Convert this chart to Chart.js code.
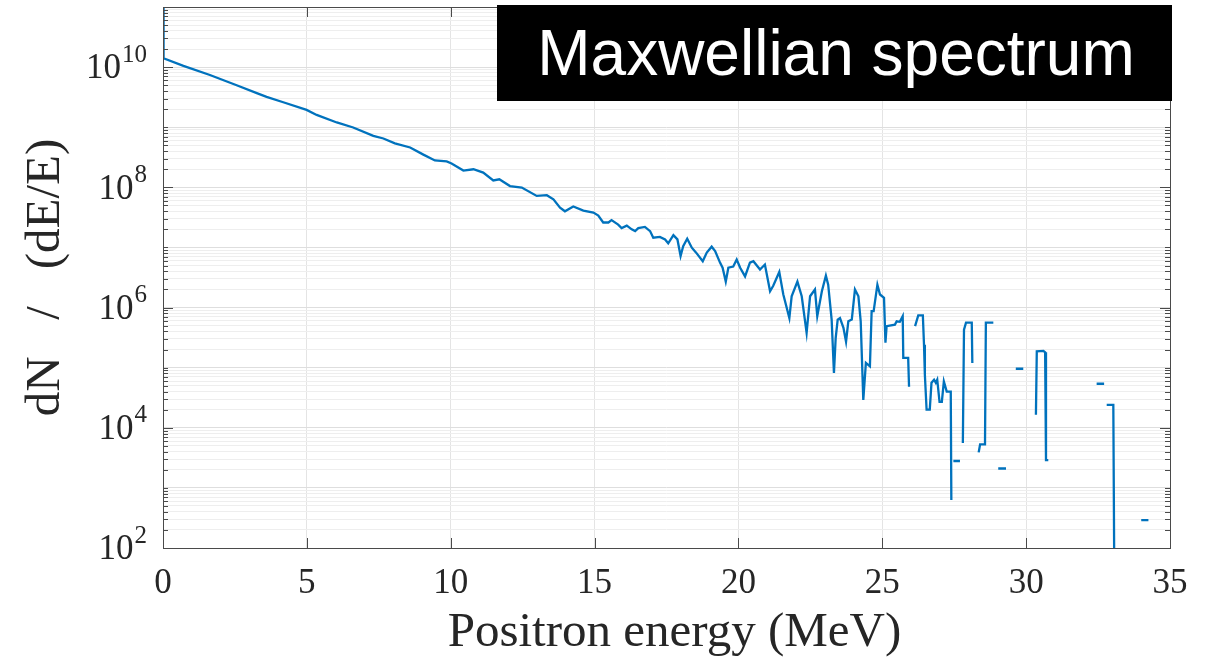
<!DOCTYPE html>
<html>
<head>
<meta charset="utf-8">
<title>Maxwellian spectrum</title>
<script src="https://cdn.jsdelivr.net/npm/chart.js@4.4.1/dist/chart.umd.min.js"></script>
<style>
  html, body { margin: 0; padding: 0; background: #fff; }
</style>
</head>
<body>
<canvas id="spectrumChart" width="1216" height="661"></canvas>
<script>
// positron energy (MeV)
var energy = [0, 0.02, 0.71, 1.63, 2.56, 3.26, 3.60, 4.18, 4.99, 5.34, 6.04, 6.61, 7.31, 7.66, 8.06, 8.59,
  9.05, 9.45, 9.86, 10.03, 10.44, 10.79, 11.13, 11.48, 11.69, 12.06, 12.47, 12.99, 13.34, 13.57, 13.80,
  13.97, 14.26, 14.61, 14.96, 15.13, 15.30, 15.48, 15.59, 15.82, 15.94, 16.12, 16.29, 16.41, 16.52, 16.75,
  16.93, 17.04, 17.27, 17.45, 17.56, 17.74, 17.88, 17.99, 18.08, 18.22, 18.38, 18.53, 18.76, 18.90, 19.07,
  19.19, 19.36, 19.45, 19.56, 19.65, 19.82, 19.94, 20.06, 20.23, 20.40, 20.52, 20.75, 20.92, 21.10, 21.21,
  21.42, 21.56, 21.77, 21.85, 22.05, 22.20, 22.37, 22.49, 22.66, 22.74, 22.90, 23.04, 23.12, 23.24, 23.32,
  23.38, 23.45, 23.53, 23.65, 23.74, 23.82, 23.94, 24.05, 24.17, 24.25, 24.34, 24.43, 24.57, 24.63, 24.70,
  24.83, 24.92, 25.06, 25.11, 25.15, 25.44, 25.50, 25.61, 25.71, 25.73, 25.90, 25.93, 26.03,
  26.14, 26.25, 26.41, 26.45, 26.48, 26.54, 26.65, 26.71, 26.80, 26.86, 26.91, 26.99, 27.07, 27.14, 27.24,
  27.38, 27.40, 27.44, 27.47, 27.70, 27.75, 27.80, 27.84, 27.91, 28.11, 28.13, 28.24, 28.35, 28.40, 28.57,
  28.60, 28.86, 28.95, 29.03, 29.30, 29.47, 29.64, 29.90, 30.10, 30.34, 30.37, 30.60, 30.66, 30.69, 30.77,
  31.60, 32.45, 32.71, 32.75, 32.80, 33.03, 33.07, 33.50, 34.00, 34.25];

// dN / (dE/E); null = empty bin, the line breaks there
var dnde = [1e12, 1.4e10, 1.05e10, 7.4e9, 5.0e9, 3.7e9, 3.2e9, 2.6e9, 1.94e9, 1.6e9, 1.2e9, 9.9e8, 7.2e8, 6.5e8, 5.4e8, 4.6e8,
  3.5e8, 2.8e8, 2.7e8, 2.5e8, 1.9e8, 2.0e8, 1.76e8, 1.3e8, 1.36e8, 1.05e8, 9.9e7, 7.2e7, 7.4e7, 6.3e7, 4.6e7,
  4.0e7, 4.8e7, 4.1e7, 3.8e7, 3.4e7, 2.6e7, 2.6e7, 2.85e7, 2.4e7, 2.1e7, 2.3e7, 2.0e7, 1.87e7, 2.1e7, 2.2e7,
  1.87e7, 1.45e7, 1.5e7, 1.36e7, 1.17e7, 1.6e7, 1.36e7, 7.2e6, 1.05e7, 1.4e7, 9.9e6, 8.2e6, 5.9e6, 8.2e6, 1.03e7,
  8.7e6, 5.6e6, 4.6e6, 2.7e6, 4.6e6, 4.8e6, 6.3e6, 4.6e6, 3.3e6, 5.6e6, 5.9e6, 4.3e6, 5.2e6, 1.87e6, 2.3e6,
  3.9e6, 1.65e6, 6.7e5, 1.54e6, 2.7e6, 1.54e6, 3.8e5, 1.54e6, 2.0e6, 7.2e5, 1.87e6, 3.4e6, 2.4e6, 6.3e5, 8.2e4,
  3.1e5, 6.3e5, 6.7e5, 4.6e5, 2.7e5, 5.9e5, 6.3e5, 2.0e6, 1.54e6, 5.9e5, 2.9e4, 1.2e5, 1.05e5, 8.7e5, 8.7e5,
  2.4e6, 1.65e6, 1.45e6, 2.6e5, 4.9e5, 5.2e5, 5.9e5, 5.8e5, 7.2e5, 1.45e5, 1.45e5, 4.8e4, null,
  4.9e5, 7.4e5, 7.4e5, 2.4e5, 7.6e4, 2.0e4, 2.0e4, 5.6e4, 6.3e4, 5.6e4, 6.3e4, 2.7e4, 2.7e4, 5.9e4, 4.0e4,
  4.0e4, 630, null, 2800, 2800, null, 5600, 4.3e5, 5.6e5, 5.6e5, 1.2e5, null, 3900, 5300, 5300,
  5.6e5, 5.6e5, null, 2100, 2100, null, 9.6e4, 9.6e4, null, 1.65e4, 1.87e5, 1.9e5, 1.8e5, 2900, 2900,
  null, 5.4e4, 5.4e4, null, 2.4e4, 2.4e4, 10, null, 290, 290];

var xTickValues = [0, 5, 10, 15, 20, 25, 30, 35];
var yLabelPowers = [2, 4, 6, 8, 10];

var lineColor = '#0072BD';
var axisColor = '#4a4a4a';
var serif = '"Liberation Serif", "Times New Roman", serif';

// 1..9 x 10^n gridlines from 10^2 up to 10^11
var yGridValues = [];
for (var n = 2; n <= 10; n++) {
  for (var m = 1; m <= 9; m++) yGridValues.push(m * Math.pow(10, n));
}
yGridValues.push(1e11);

function decadeOf(v) {
  var l = Math.log10(v);
  return Math.abs(l - Math.round(l)) < 1e-9 ? Math.round(l) : null;
}

var points = energy.map(function (e, i) { return { x: e, y: dnde[i] }; });

var axesPlugin = {
  id: 'axesDecor',
  afterDraw: function (chart) {
    var ctx = chart.ctx, a = chart.chartArea;
    var xs = chart.scales.x, ys = chart.scales.y;
    ctx.save();

    // inward tick marks on all four sides
    ctx.strokeStyle = axisColor;
    ctx.lineWidth = 1;
    ctx.beginPath();
    xTickValues.forEach(function (v) {
      var px = Math.round(xs.getPixelForValue(v)) + 0.5;
      ctx.moveTo(px, a.bottom); ctx.lineTo(px, a.bottom - 10);
      ctx.moveTo(px, a.top); ctx.lineTo(px, a.top + 10);
    });
    yGridValues.forEach(function (v) {
      var py = Math.round(ys.getPixelForValue(v)) + 0.5;
      var d = decadeOf(v);
      var len = (d !== null && d % 2 === 0) ? 10 : 5;
      ctx.moveTo(a.left, py); ctx.lineTo(a.left + len, py);
      ctx.moveTo(a.right, py); ctx.lineTo(a.right - len, py);
    });
    ctx.stroke();

    ctx.strokeRect(Math.round(a.left) + 0.5, Math.round(a.top) + 0.5,
      Math.round(a.right - a.left), Math.round(a.bottom - a.top));

    // tick labels
    ctx.fillStyle = '#262626';
    ctx.font = '35px ' + serif;
    ctx.textAlign = 'center';
    ctx.textBaseline = 'middle';
    xTickValues.forEach(function (v) {
      ctx.fillText(String(v), xs.getPixelForValue(v), a.bottom + 36);
    });

    ctx.textAlign = 'left';
    yLabelPowers.forEach(function (p) {
      var py = ys.getPixelForValue(Math.pow(10, p));
      ctx.font = '35px ' + serif;
      var wb = ctx.measureText('10').width;
      ctx.font = '25px ' + serif;
      var we = ctx.measureText(String(p)).width;
      var x0 = a.left - 17 - wb - we;
      ctx.font = '35px ' + serif;
      ctx.fillText('10', x0, py + 2);
      ctx.font = '25px ' + serif;
      ctx.fillText(String(p), x0 + wb + 1, py - 12);
    });

    // axis titles
    ctx.font = '49px ' + serif;
    ctx.textAlign = 'center';
    ctx.fillText('Positron energy (MeV)', (a.left + a.right) / 2 + 8, 633);
    ctx.translate(46, (a.top + a.bottom) / 2);
    ctx.rotate(-Math.PI / 2);
    ctx.fillText('dN   /   (dE/E)', 0, 0);
    ctx.setTransform(1, 0, 0, 1, 0, 0);

    // label box
    ctx.fillStyle = '#000';
    ctx.fillRect(497, 5, 675, 96);
    ctx.fillStyle = '#fff';
    ctx.font = '64px "Liberation Sans", Arial, sans-serif';
    ctx.textBaseline = 'alphabetic';
    ctx.fillText('Maxwellian spectrum', 836, 75);

    ctx.restore();
  }
};

var ctx = document.getElementById('spectrumChart').getContext('2d');
var spectrumChart = new Chart(ctx, {
  type: 'line',
  data: {
    datasets: [{
      label: 'Maxwellian spectrum',
      data: points,
      borderColor: lineColor,
      backgroundColor: lineColor,
      borderWidth: 2.3,
      pointRadius: 0,
      tension: 0,
      spanGaps: false,
      fill: false
    }]
  },
  options: {
    responsive: false,
    animation: false,
    layout: { padding: { top: 7, right: 46, left: 0, bottom: 0 } },
    plugins: {
      legend: { display: false },
      tooltip: { enabled: false }
    },
    scales: {
      x: {
        type: 'linear',
        min: 0,
        max: 35,
        afterBuildTicks: function (scale) {
          scale.ticks = xTickValues.map(function (v) { return { value: v }; });
        },
        afterFit: function (scale) { scale.height = 113; },
        ticks: { display: false },
        border: { display: false },
        grid: { color: '#e4e4e4', drawTicks: false }
      },
      y: {
        type: 'logarithmic',
        min: 1e2,
        max: 1e11,
        afterBuildTicks: function (scale) {
          scale.ticks = yGridValues.map(function (v) { return { value: v }; });
        },
        afterFit: function (scale) { scale.width = 163; },
        ticks: { display: false },
        border: { display: false },
        grid: {
          drawTicks: false,
          color: function (c) {
            var v = c.tick && c.tick.value;
            return (v && decadeOf(v) !== null) ? '#dedede' : '#eeeeee';
          }
        }
      }
    }
  },
  plugins: [axesPlugin]
});
</script>
</body>
</html>
